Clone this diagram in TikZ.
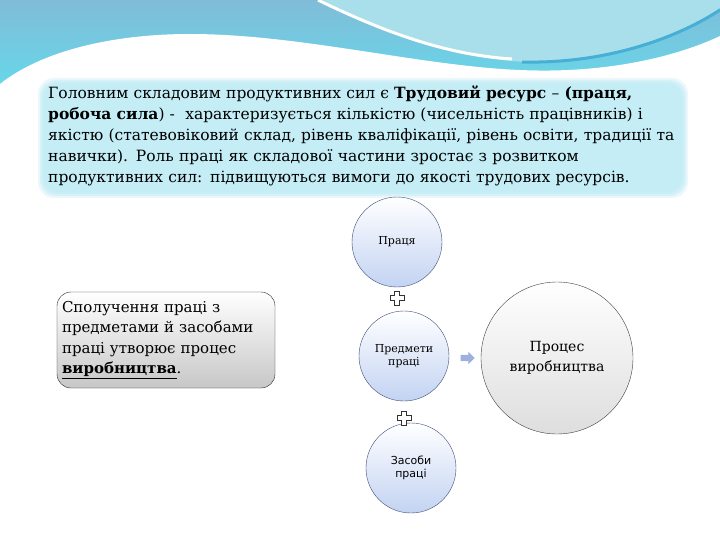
\documentclass[tikz,border=0pt]{standalone}
\usepackage{fontspec}
\setmainfont{DejaVu Serif}
\newfontfamily\labelsans{DejaVu Sans}
\usetikzlibrary{shapes.arrows}
\definecolor{waveblue}{HTML}{80BCD8}
\definecolor{wavecyan}{HTML}{62DCEC}
\definecolor{swooshlight}{HTML}{A9DFEA}
\definecolor{swooshdark}{HTML}{45AFD6}
\definecolor{boxcyan}{HTML}{C4EDF6}
\definecolor{partblue}{HTML}{C3D3F2}
\definecolor{partline}{HTML}{3F4E78}
\definecolor{arrowblue}{HTML}{9EB0DC}

\begin{document}
\begin{tikzpicture}[x=1pt, y=-1pt,
	part/.style={circle, draw=partline, thin, top color=white, bottom color=partblue, minimum size=90pt, inner sep=1pt, align=center, font=\fontsize{11}{13}\selectfont},
	result/.style={circle, draw=black!75, thin, top color=white, bottom color=black!13, minimum size=152pt, align=center, font=\fontsize{14}{20}\selectfont},
	plusline/.style={draw=black!80, line width=0.6pt, fill=white},
	note/.style={rounded corners=14pt, draw=black!85, top color=white, bottom color=black!22, minimum width=218pt, minimum height=96pt, text width=208pt, align=left, font=\fontsize{15}{20.5}\selectfont}]
	\useasboundingbox (0,0) rectangle (720,540);
	\fill[top color=waveblue, bottom color=wavecyan] (0,0) rectangle (720,100);
	\fill[swooshlight] (322,0) .. controls (400,40) and (465,60) .. (530,62) .. controls (610,63) and (680,35) .. (720,8) -- (720,0) -- cycle;
	\draw[white, line width=3pt] (318,0) .. controls (390,35) and (450,55) .. (512,59);
	\draw[swooshdark, line width=3pt] (522,62) .. controls (610,64) and (680,36) .. (720,10);
	\fill[white] (0,84) .. controls (40,52) and (110,34) .. (190,34) .. controls (300,34) and (420,66) .. (520,70) .. controls (610,74) and (680,55) .. (720,36) -- (720,540) -- (0,540) -- cycle;

	\foreach \gap/\op in {0/0.35, 2/0.5, 4/0.7, 6/1}
		\fill[boxcyan, opacity=\op, rounded corners=16pt] (38+\gap,78+\gap) rectangle (688-\gap,198-\gap);
	\node[anchor=north west, text width=640pt, align=left, inner sep=0pt, font=\fontsize{15.5}{21}\selectfont] (intro) at (48,86)
		{Головним складовим продуктивних сил є \textbf{Трудовий ресурс} – \textbf{(праця,}\\
		\textbf{робоча сила}) -\ \ характеризується кількістю (чисельність працівників) і\\
		якістю (статевовіковий склад, рівень кваліфікації, рівень освіти, традиції та\\
		навички). Роль праці як складової частини зростає з розвитком\\
		продуктивних сил: підвищуються вимоги до якості трудових ресурсів.};

	\node[part] (pratsia) at (397,242) {Праця};
	\node[part] (predmety) at (404,356) {Предмети\\праці};
	\node[part, font=\labelsans\fontsize{11}{13}\selectfont] (zasoby) at (411,468) {Засоби\\праці};
	\node[result] (protses) at (557,358) {Процес\\виробництва};
	\node[note] (spoluch) at (166,340) {Сполучення праці з предметами й засобами праці утворює процес \underline{\textbf{виробництва}}.};

	\foreach \px/\py in {397/298, 404/418}
		\draw[plusline, shift={(\px,\py)}] (-2.5,-7) -- (2.5,-7) -- (2.5,-2.5) -- (7,-2.5) -- (7,2.5) -- (2.5,2.5) -- (2.5,7) -- (-2.5,7) -- (-2.5,2.5) -- (-7,2.5) -- (-7,-2.5) -- (-2.5,-2.5) -- cycle;

	\node[single arrow, fill=arrowblue, minimum width=12pt, minimum height=14pt, single arrow head extend=3pt, single arrow head indent=0pt, inner sep=0pt, text height=6pt] (toresult) at (466,358) {};
\end{tikzpicture}
\end{document}
